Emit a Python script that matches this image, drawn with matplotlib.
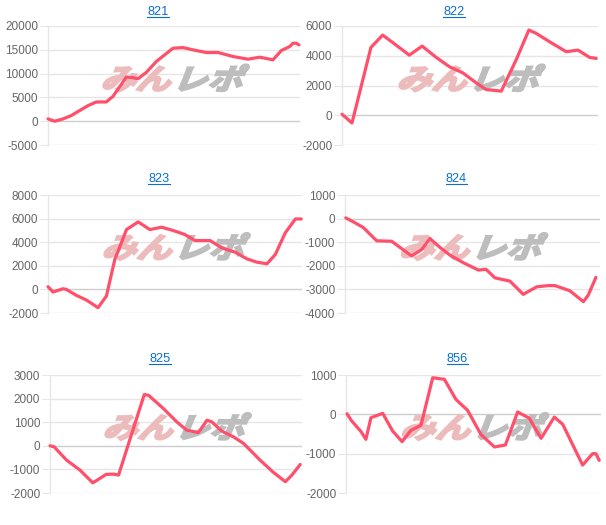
import matplotlib
matplotlib.use("Agg")
import matplotlib.pyplot as plt
from matplotlib.textpath import TextPath
from matplotlib.patches import PathPatch
from matplotlib.font_manager import FontProperties
from matplotlib.transforms import Affine2D
from matplotlib.lines import Line2D

# ---- data (x in percent of the session span, y = difference in medals) ----
titles = ["821", "822", "823", "824", "825", "856"]

x821 = [0, 2.6, 6.0, 9.3, 13.2, 15.9, 19.2, 23.1, 25.8, 31.1, 33.1, 35.7, 39.0, 43.0,
        49.6, 53.6, 57.5, 62.8, 67.5, 73.4, 79.4, 84.0, 89.3, 92.6, 95.9, 97.2, 98.5, 99.6]
y821 = [490, 0, 490, 1200, 2440, 3280, 4040, 4040, 5230, 9270, 9200, 8920, 10250, 12550,
        15330, 15470, 14990, 14430, 14430, 13590, 13030, 13450, 12900, 14850, 15680, 16380, 16380, 16030]

x822 = [0, 3.9, 11.3, 15.9, 21.1, 26.3, 31.3, 36.8, 42.0, 47.2, 52.4, 56.3, 62.2, 68.1,
        73.0, 75.9, 81.1, 87.6, 92.2, 96.7, 99.3]
y822 = [70, -520, 4560, 5390, 4720, 4040, 4650, 3890, 3260, 2850, 2180, 1730, 1620, 3750,
        5730, 5500, 4940, 4270, 4380, 3890, 3820]

x823 = [0, 2.0, 5.9, 7.2, 11.2, 15.1, 19.7, 23.0, 26.3, 30.9, 35.5, 40.1, 44.7, 49.3,
        53.9, 57.9, 63.8, 68.4, 73.7, 78.3, 82.2, 86.2, 89.5, 93.4, 97.4, 99.7]
y823 = [225, -225, 56, 0, -507, -900, -1550, -563, 2535, 5070, 5720, 5070, 5270, 4990,
        4650, 4140, 4140, 3520, 3150, 2590, 2310, 2170, 2960, 4790, 5970, 5970]

x824 = [0.3, 3.3, 7.2, 12.4, 18.3, 22.2, 26.1, 30.1, 33.3, 37.3, 41.2, 46.4, 52.3, 55.3,
        58.8, 64.7, 69.9, 75.2, 79.7, 82.4, 88.2, 93.5, 95.4, 98.4]
y824 = [30, -140, -380, -940, -960, -1270, -1580, -1310, -845, -1225, -1550, -1870, -2180, -2150,
        -2510, -2650, -3210, -2890, -2840, -2840, -3060, -3520, -3240, -2490]

x825 = [0, 1.6, 6.6, 11.9, 17.0, 22.3, 25.2, 27.2, 37.4, 39.1, 45.0, 50.3, 54.3, 58.9,
        62.3, 64.2, 68.2, 72.8, 76.8, 83.4, 88.7, 93.4, 96.0, 99.3]
y825 = [0, -40, -610, -1030, -1570, -1210, -1200, -1240, 2170, 2140, 1580, 1015, 660, 560,
        1085, 1015, 620, 380, 100, -610, -1130, -1520, -1240, -790]

x856 = [0.4, 2.0, 5.9, 7.8, 9.8, 14.4, 18.3, 22.0, 25.5, 29.4, 34.0, 38.6, 43.1, 47.7,
        52.9, 58.2, 62.5, 67.3, 71.9, 76.5, 81.7, 85.0, 88.2, 92.8, 96.7, 98.0, 99.3]
y856 = [15, -150, -440, -635, -85, 25, -425, -695, -405, -280, 930, 890, 380, 100,
        -510, -830, -780, 60, -100, -610, -70, -255, -680, -1290, -1000, -1000, -1170]

xs = [x821, x822, x823, x824, x825, x856]
ys = [y821, y822, y823, y824, y825, y856]
yticks = [
    [-5000, 0, 5000, 10000, 15000, 20000],
    [-2000, 0, 2000, 4000, 6000],
    [-2000, 0, 2000, 4000, 6000, 8000],
    [-4000, -3000, -2000, -1000, 0, 1000],
    [-2000, -1000, 0, 1000, 2000, 3000],
    [-2000, -1000, 0, 1000],
]

# ---- layout (pixels) ----
W, H = 606, 525
boxes = [
    (48, 300, 26, 145),
    (342, 598, 26, 145),
    (48, 302, 195, 313),
    (345, 600, 195, 313),
    (50, 302, 375, 493),
    (346, 601, 375, 493),
]
title_y = [12, 12, 179, 179, 359, 359]

fig = plt.figure(figsize=(W / 100, H / 100), dpi=100)
fig.patch.set_facecolor("white")

LINE = "#ff4f6b"
GRID = "#e6e6e6"
ZERO = "#cccccc"
TICKC = "#666666"
BLUE = "#0a6fd0"

cjk = FontProperties(family="Noto Sans CJK JP", weight="bold")
tp_red = TextPath((0, 0), "みん", size=1, prop=cjk)
tp_gray = TextPath((0, 0), "レポ", size=1, prop=cjk)

title_texts = []
for i in range(6):
    l, r, t, b = boxes[i]
    ax = fig.add_axes([l / W, 1 - b / H, (r - l) / W, (b - t) / H])
    axw, axh = r - l, b - t
    tk = yticks[i]
    ax.set_xlim(0, 100)
    ax.set_ylim(tk[0], tk[-1])
    ax.set_yticks(tk)
    ax.set_yticklabels([str(v) for v in tk])
    ax.set_xticks([])
    for s in ["top", "right", "bottom"]:
        ax.spines[s].set_visible(False)
    ax.spines["left"].set_color(GRID)
    ax.spines["left"].set_linewidth(1)
    ax.tick_params(axis="y", length=6, width=0.8, color=GRID, pad=1,
                   labelsize=8.5, labelcolor=TICKC)
    for lab in ax.get_yticklabels():
        lab.set_fontfamily("Liberation Sans")
    for v in tk:
        ax.axhline(v, color=(ZERO if v == 0 else GRID), lw=1.0, zorder=0.5)

    # watermark logo (skewed bold text)
    em = 35.0  # pixels per em
    cx, cy = 0.5, 0.56

    def place(tp, x0_px, color):
        tr = (Affine2D().skew_deg(18, 0).scale(em, em * 0.82)
              .translate(x0_px, -11)
              .scale(1 / axw, 1 / axh).translate(cx, cy) + ax.transAxes)
        ax.add_patch(PathPatch(tp, transform=tr, facecolor=color,
                               edgecolor=color, linewidth=1.6, zorder=1))
    place(tp_red, -74, "#ecbcbc")
    place(tp_gray, -2, "#bdbdbd")

    ax.plot(xs[i], ys[i], color=LINE, lw=2.3, solid_joinstyle="round",
            solid_capstyle="round", zorder=3, clip_on=False)

    txt = fig.text(((l + r) / 2 - 16) / W, 1 - title_y[i] / H, titles[i], color=BLUE,
                   fontsize=9.2, family="Liberation Sans", ha="center", va="center")
    title_texts.append(txt)

fig.canvas.draw()
renderer = fig.canvas.get_renderer()
for txt in title_texts:
    bb = txt.get_window_extent(renderer)
    yline = bb.y0 + 1.0
    fig.add_artist(Line2D([bb.x0 / W, bb.x1 / W], [yline / H, yline / H],
                          color=BLUE, lw=0.8, transform=fig.transFigure))

fig.savefig("out.png", dpi=100, facecolor="white")
